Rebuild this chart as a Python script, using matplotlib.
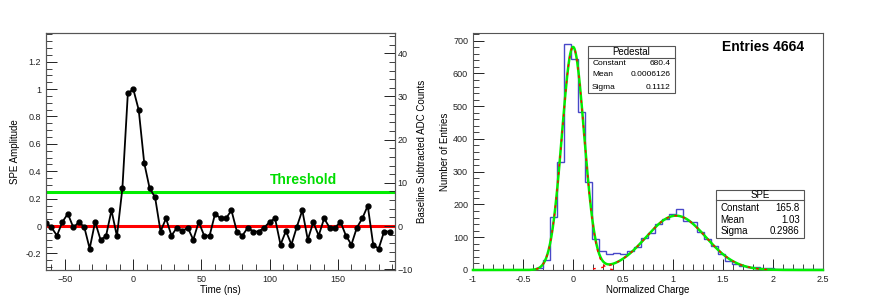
"""SPE waveform and charge spectrum, ROOT-style two panel figure."""

import numpy as np
import matplotlib
matplotlib.use("Agg")
import matplotlib.pyplot as plt
from matplotlib.ticker import MultipleLocator, AutoMinorLocator, FixedLocator
from matplotlib.patches import Rectangle

plt.rcParams["font.family"] = ["Liberation Sans", "DejaVu Sans"]

# --- left panel: single waveform (4 ns samples) ---
time_ns = np.arange(-64, 189, 4)
spe_amp = [
    0.024, -0.01, -0.07, 0.03, 0.09, -0.01, 0.027, -0.005, -0.165, 0.03,
    -0.10, -0.073, 0.115, -0.075, 0.275, 0.968, 1.0, 0.847, 0.462, 0.275,
    0.21, -0.04, 0.056, -0.07, -0.012, -0.036, -0.012, -0.10, 0.03, -0.07,
    -0.07, 0.09, 0.056, 0.056, 0.115, -0.04, -0.07, -0.012, -0.04, -0.04,
    -0.012, 0.03, 0.056, -0.136, -0.036, -0.136, -0.005, 0.115, -0.10, 0.027,
    -0.07, 0.056, -0.012, -0.012, 0.03, -0.07, -0.136, -0.012, 0.056, 0.148,
    -0.136, -0.165, -0.04, -0.04,
]
amp_ticks = [-0.2, 0, 0.2, 0.4, 0.6, 0.8, 1, 1.2]
threshold = 0.25
adc_per_spe = 31.7

# --- right panel: charge histogram (50 bins, -1 .. 2.5) ---
bin_edges = np.linspace(-1.0, 2.5, 51)
bin_counts = [
    0, 0, 0, 0, 0, 0, 0, 0, 0, 7,
    30, 162, 330, 689, 643, 481, 270, 95, 58, 48,
    52, 49, 58, 70, 98, 114, 140, 155, 170, 186,
    150, 146, 116, 96, 72, 48, 28, 18, 12, 8,
    8, 5, 5, 4, 4, 4, 4, 3, 3, 2,
]
charge_ticks = [-1, -0.5, 0, 0.5, 1, 1.5, 2, 2.5]
entries = 4664
ped_par = (680.4, 0.0006126, 0.1112)
spe_par = (165.8, 1.03, 0.2986)


def gaus(x, c, m, s):
    return c * np.exp(-0.5 * ((x - m) / s) ** 2)


def root_ticks(ax):
    ax.tick_params(which="both", direction="in", labelsize=6.5, colors="#222222")
    ax.tick_params(which="major", length=8, width=0.7)
    ax.tick_params(which="minor", length=4, width=0.6)
    for sp in ax.spines.values():
        sp.set_color("#555555")
        sp.set_linewidth(0.8)


fig = plt.figure(figsize=(8.72, 3.01), dpi=100)

# left panel
ax1 = fig.add_axes([0.0528, 0.103, 0.4002, 0.787])
ax1.axhline(0, color="#ff0000", lw=2.2, zorder=2)
ax1.axhline(threshold, color="#00ee00", lw=2.2, zorder=2)
ax1.plot(time_ns, spe_amp, "-o", color="black", lw=1.3, ms=3.5, zorder=3)
ax1.text(100, 0.335, "Threshold", color="#00dd00", fontsize=10,
         fontweight="bold", ha="left", va="center")
ax1.set_xlim(-64, 192)
ax1.set_ylim(-0.321, 1.409)
ax1.xaxis.set_major_locator(MultipleLocator(50))
ax1.xaxis.set_minor_locator(AutoMinorLocator(5))
ax1.yaxis.set_major_locator(FixedLocator(amp_ticks))
ax1.yaxis.set_minor_locator(MultipleLocator(0.05))
ax1.set_yticklabels(["%g" % v for v in amp_ticks])
root_ticks(ax1)
ax1.tick_params(right=False, top=False)
ax1.set_xlabel("Time (ns)", fontsize=7, labelpad=1)
ax1.set_ylabel("SPE Amplitude", fontsize=7, labelpad=4)

ax1r = ax1.twinx()
ax1r.set_ylim(-0.321 * adc_per_spe, 1.409 * adc_per_spe)
ax1r.yaxis.set_major_locator(MultipleLocator(10))
ax1r.yaxis.set_minor_locator(AutoMinorLocator(5))
root_ticks(ax1r)
ax1r.tick_params(axis="y", pad=2)
ax1r.set_ylabel("Baseline Subtracted ADC Counts", fontsize=7, labelpad=3)

# right panel
ax2 = fig.add_axes([0.5424, 0.103, 0.4014, 0.787])
ax2.stairs(bin_counts, bin_edges, color="#4848c8", lw=1.0, zorder=2)
xt = np.linspace(-1.0, 2.5, 800)
ax2.plot(xt, gaus(xt, *ped_par) + gaus(xt, *spe_par), color="#00ee00",
         lw=1.8, zorder=3, clip_on=False)
# individual gaussian components drawn over the total
xp = np.linspace(-0.37, 0.45, 300)
ax2.plot(xp, gaus(xp, *ped_par), color="#ff0000", lw=1.0, zorder=4,
         ls=(0, (2, 4)), clip_on=False)
xs = np.linspace(0.2, 1.95, 400)
ax2.plot(xs, gaus(xs, *spe_par), color="#ff0000", lw=1.0, zorder=4,
         ls=(0, (2, 4)), clip_on=False)
ax2.set_xlim(-1.0, 2.5)
ax2.set_ylim(0, 723)
ax2.xaxis.set_major_locator(FixedLocator(charge_ticks))
ax2.xaxis.set_minor_locator(MultipleLocator(0.1))
ax2.set_xticklabels(["%g" % v for v in charge_ticks])
ax2.yaxis.set_major_locator(MultipleLocator(100))
ax2.yaxis.set_minor_locator(AutoMinorLocator(5))
root_ticks(ax2)
ax2.set_xlabel("Normalized Charge", fontsize=7, labelpad=1)
ax2.set_ylabel("Number of Entries", fontsize=7, labelpad=2)

ax2.text(0.946, 0.942, f"Entries {entries}", transform=ax2.transAxes,
         fontsize=10, fontweight="bold", ha="right", va="center")


def stats_box(ax, x0, x1, y0, y1, ydiv, title, rows, fs_title, fs_row, row_y):
    ax.add_patch(Rectangle((x0, y0), x1 - x0, y1 - y0, transform=ax.transAxes,
                           facecolor="white", edgecolor="#555555", lw=0.8,
                           zorder=6))
    ax.plot([x0, x1], [ydiv, ydiv], transform=ax.transAxes, color="#555555",
            lw=0.8, zorder=7)
    ax.text((x0 + x1) / 2, (ydiv + y1) / 2, title, transform=ax.transAxes,
            fontsize=fs_title, ha="center", va="center", zorder=8)
    pad = (x1 - x0) * 0.05
    for (lab, val), yy in zip(rows, row_y):
        ax.text(x0 + pad, yy, lab, transform=ax.transAxes, fontsize=fs_row,
                ha="left", va="center", zorder=8)
        ax.text(x1 - pad, yy, val, transform=ax.transAxes, fontsize=fs_row,
                ha="right", va="center", zorder=8)


stats_box(ax2, 0.328, 0.577, 0.747, 0.947, 0.896, "Pedestal",
          [("Constant", "680.4"), ("Mean", "0.0006126"), ("Sigma", "0.1112")],
          7, 6, [0.873, 0.824, 0.772])
stats_box(ax2, 0.694, 0.946, 0.136, 0.337, 0.294, "SPE",
          [("Constant", "165.8"), ("Mean", "1.03"), ("Sigma", "0.2986")],
          7, 7, [0.261, 0.212, 0.165])

fig.savefig("out.png", dpi=100)
